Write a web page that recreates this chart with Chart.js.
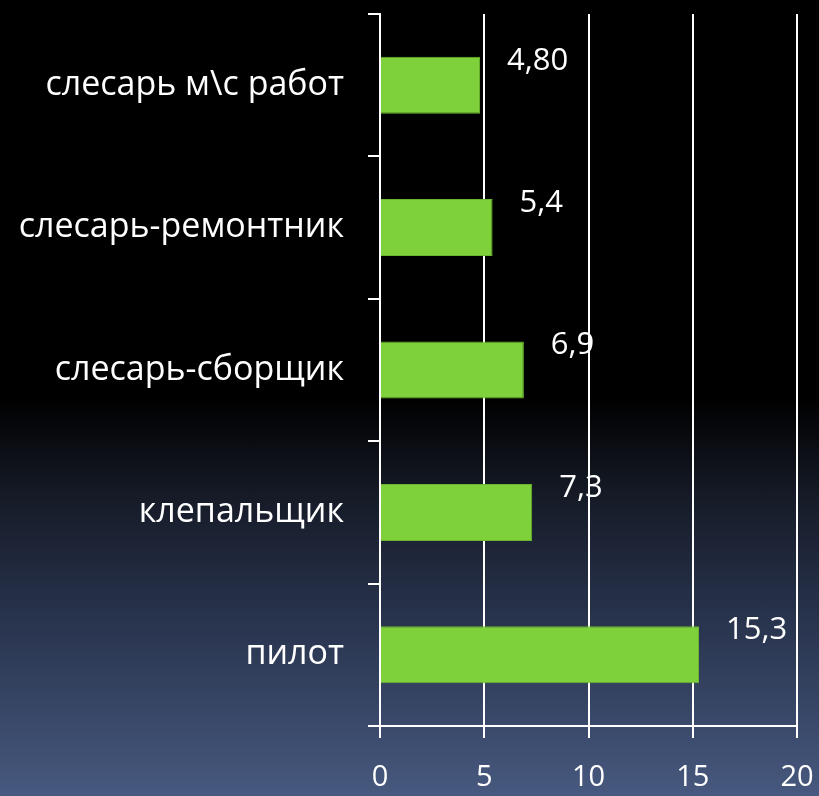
<!DOCTYPE html>
<html>
<head>
<meta charset="utf-8">
<script src="https://cdn.jsdelivr.net/npm/chart.js@4"></script>
<style>
  html, body { margin: 0; padding: 0; }
  body {
    width: 819px;
    height: 796px;
    overflow: hidden;
    background: linear-gradient(to bottom, #000 0%, #000 50%, #151a26 62%, #27324b 77%, #47597f 100%);
  }
  canvas { display: block; }
</style>
</head>
<body>
<canvas id="professionChart" width="819" height="796"></canvas>
<script>
const categories = ["слесарь м\\с работ", "слесарь-ремонтник", "слесарь-сборщик", "клепальщик", "пилот"];
const values = [4.8, 5.4, 6.9, 7.3, 15.3];
const valueLabels = ["4,80", "5,4", "6,9", "7,3", "15,3"];
const xTicks = [0, 5, 10, 15, 20];

const fontFamily = "'Open Sans', 'DejaVu Sans', sans-serif";

// draws the value next to the end of each bar
const valueLabelPlugin = {
    id: "valueLabels",
    afterDatasetsDraw(chart) {
        const ctx = chart.ctx;
        const meta = chart.getDatasetMeta(0);
        ctx.save();
        ctx.fillStyle = "#ffffff";
        ctx.font = "31px " + fontFamily;
        ctx.textAlign = "left";
        ctx.textBaseline = "middle";
        meta.data.forEach((bar, i) => {
            ctx.fillText(valueLabels[i], bar.x + 27, bar.y - bar.height / 2 + 4);
        });
        ctx.restore();
    },
};

function renderChart() {
    const ctx = document.getElementById("professionChart").getContext("2d");

    new Chart(ctx, {
        type: "bar",
        data: {
            labels: categories,
            datasets: [
                {
                    data: values,
                    backgroundColor: "#7fd13b",
                    borderColor: "#6bb52f",
                    borderWidth: 1,
                    categoryPercentage: 1,
                    barPercentage: 0.4,
                },
            ],
        },
        options: {
            indexAxis: "y",
            responsive: false,
            animation: false,
            layout: {
                padding: { top: 14, right: 22, left: 0, bottom: 0 },
            },
            scales: {
                x: {
                    min: 0,
                    max: 20,
                    afterBuildTicks: (scale) => {
                        scale.ticks = xTicks.map((v) => ({ value: v }));
                    },
                    afterFit: (scale) => {
                        scale.height = 70;
                        scale.paddingLeft = 0;
                        scale.paddingRight = 0;
                    },
                    ticks: {
                        color: "#ffffff",
                        padding: 22,
                        maxRotation: 0,
                        font: { family: fontFamily, size: 29 },
                    },
                    grid: {
                        color: "#ffffff",
                        lineWidth: 2,
                        tickLength: 12,
                    },
                    border: { display: true, color: "#ffffff", width: 2 },
                },
                y: {
                    afterFit: (scale) => {
                        scale.width = 380;
                        scale.paddingTop = 0;
                        scale.paddingBottom = 0;
                    },
                    ticks: {
                        color: "#ffffff",
                        padding: 24,
                        font: { family: fontFamily, size: 34 },
                    },
                    grid: {
                        color: "#ffffff",
                        lineWidth: 2,
                        tickLength: 12,
                        drawOnChartArea: false,
                        offset: true,
                    },
                    border: { display: true, color: "#ffffff", width: 2 },
                },
            },
            plugins: {
                legend: { display: false },
                tooltip: { enabled: false },
            },
        },
        plugins: [valueLabelPlugin],
    });
}

renderChart();
</script>
</body>
</html>
